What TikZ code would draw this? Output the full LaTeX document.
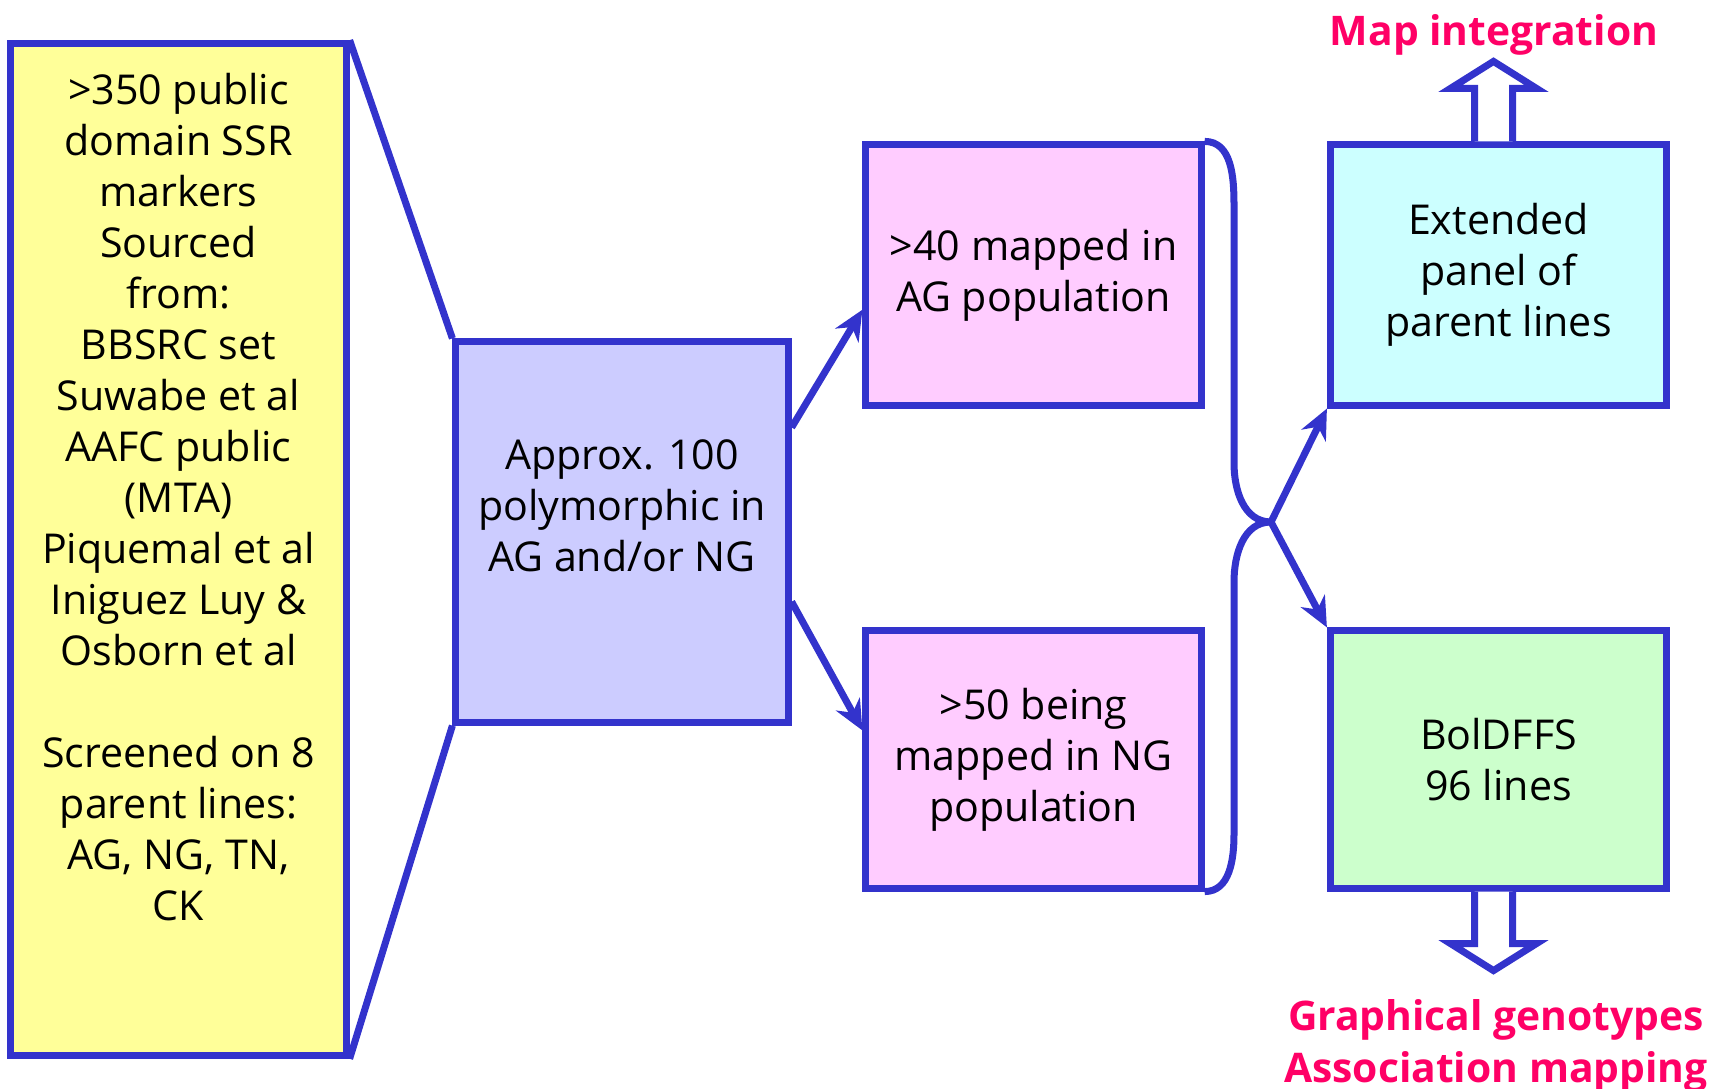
\documentclass[tikz,border=0pt]{standalone}
\usepackage{fontspec}
\setmainfont{Open Sans}
\usetikzlibrary{arrows.meta,calc}

\definecolor{edgeblue}{HTML}{3333CC}
\definecolor{srcyellow}{HTML}{FFFF99}
\definecolor{polyblue}{HTML}{CCCCFF}
\definecolor{mappink}{HTML}{FFCCFF}
\definecolor{extcyan}{HTML}{CCFFFF}
\definecolor{bolgreen}{HTML}{CCFFCC}
\definecolor{outred}{HTML}{FF0066}

\tikzset{
  box/.style={draw=edgeblue, line width=0.7mm, align=center, inner sep=0pt,
    font=\fontsize{11.7}{14.5}\selectfont},
  txt/.style={align=center, font=\fontsize{11.7}{14.5}\selectfont},
  outtxt/.style={align=center, text=outred, font=\bfseries\fontsize{11.6}{14.6}\selectfont},
  wire/.style={draw=edgeblue, line width=0.7mm},
  link/.style={wire, -{Stealth[length=3mm,width=2.7mm]}},
  hollow/.style={draw=edgeblue, fill=white, line width=0.7mm},
}

\begin{document}
\begin{tikzpicture}[x=0.01cm, y=-0.01cm]
    \useasboundingbox (0,0) rectangle (1715,1089);

    \node[box, fill=srcyellow, minimum width=3.35cm, minimum height=10.11cm] (src) at (178.5,549.5) {};
    \node[txt] (srctxt) at (178.5,497) {>350 public\\domain SSR\\markers\\Sourced\\from:\\BBSRC set\\Suwabe et al\\AAFC public\\(MTA)\\Piquemal et al\\Iniguez Luy \&\\Osborn et al\\[14.5pt]Screened on 8\\parent lines:\\AG, NG, TN,\\CK};
    \node[box, fill=polyblue, minimum width=3.32cm, minimum height=3.8cm] (poly) at (622,532) {};
    \node[txt] (polytxt) at (622,506) {Approx. 100\\polymorphic in\\AG and/or NG};
    \node[box, fill=mappink, minimum width=3.35cm, minimum height=2.6cm] (agmap) at (1033.5,275) {>40 mapped in\\AG population};
    \node[box, fill=mappink, minimum width=3.35cm, minimum height=2.57cm] (ngmap) at (1033.5,759.5) {>50 being\\mapped in NG\\population};
    \node[box, fill=extcyan, minimum width=3.36cm, minimum height=2.6cm] (ext) at (1498.5,275) {Extended\\panel of\\parent lines};
    \node[box, fill=bolgreen, minimum width=3.36cm, minimum height=2.57cm] (bol) at (1498.5,759.5) {BolDFFS\\96 lines};

    \node[outtxt] (mapint) at (1494,35) {Map integration};
    \node[outtxt] (graph) at (1496,1046) {Graphical genotypes\\Association mapping};

    \coordinate (fork) at (1271,522);

    \draw[wire] (src.north east) -- (poly.north west);
    \draw[wire] (src.south east) -- (poly.south west);

    \draw[link] ($(poly.north east)!0.23!(poly.south east)$) -- ($(agmap.north west)!0.63!(agmap.south west)$);
    \draw[link] ($(poly.north east)!0.68!(poly.south east)$) -- ($(ngmap.north west)!0.39!(ngmap.south west)$);

    \draw[wire] (agmap.north east) to[out=0,in=90] (1234,205) -- (1234,463) to[out=-90,in=180] (fork);
    \draw[wire] (fork) to[out=180,in=90] (1234,582) -- (1234,834) to[out=-90,in=0] (ngmap.south east);

    \draw[link] (fork) -- (ext.south west);
    \draw[link] (fork) -- (bol.north west);

    \draw[hollow] ([xshift=-0.24cm]ext.north) -- ++(0,-53) -- ++(-24,0) -- ++(43,-27) -- ++(43,27) -- ++(-24,0) -- ++(0,53);
    \draw[hollow] ([xshift=-0.24cm]bol.south) -- ++(0,52) -- ++(-24,0) -- ++(43,27) -- ++(43,-27) -- ++(-24,0) -- ++(0,-52);
\end{tikzpicture}
\end{document}
